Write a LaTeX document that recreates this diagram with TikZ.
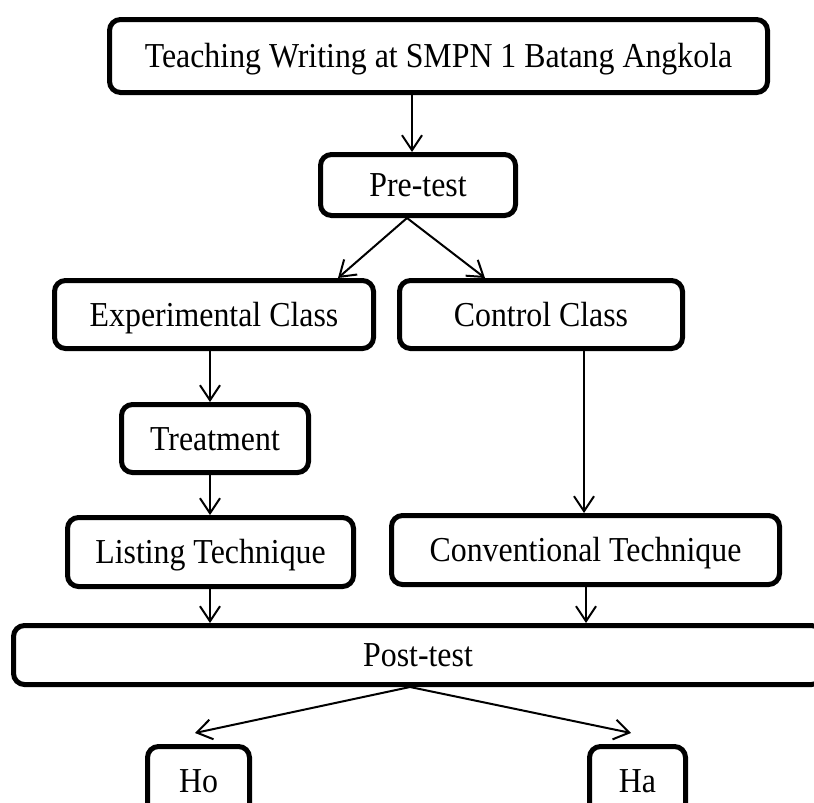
\documentclass[tikz,border=0pt]{standalone}
\usepackage{fontspec}
\setmainfont[FakeStretch=0.91]{Liberation Serif}
\usetikzlibrary{arrows.meta}
\begin{document}
\begin{tikzpicture}[x=1pt,y=-1pt,
  box/.style={draw, line width=5pt, rounded corners=11pt, inner sep=0pt,
    text height=23pt, text depth=0pt, font=\fontsize{35}{40}\selectfont},
  arr/.style={line width=2pt, -{Straight Barb[length=15pt,width=20pt,line width=2pt]}}]
\useasboundingbox (0,0) rectangle (814,803);
\clip (0,0) rectangle (814,803);
\node[box, minimum width=658pt, minimum height=73pt] (top) at (438.5,56) {Teaching Writing at SMPN 1 Batang Angkola};
\node[box, minimum width=195pt, minimum height=61pt] (pre) at (418,185) {Pre-test};
\node[box, minimum width=319pt, minimum height=68pt] (exp) at (214,314.5) {Experimental Class};
\node[box, minimum width=283pt, minimum height=68pt] (ctrl) at (541,314.5) {Control Class};
\node[box, minimum width=187pt, minimum height=68pt] (treat) at (215,438.5) {Treatment};
\node[box, minimum width=286pt, minimum height=69pt] (list) at (210.5,552) {Listing Technique};
\node[box, minimum width=388pt, minimum height=69pt] (conv) at (585.5,550) {Conventional Technique};
\node[box, minimum width=809pt, minimum height=59pt] (post) at (418,655) {Post-test};
\node[box, minimum width=102pt, minimum height=69pt] (ho) at (198.5,781) {Ho};
\node[box, minimum width=96pt, minimum height=69pt] (ha) at (637.5,781) {Ha};
\draw[arr] (top.south -| 412,0) -- (pre.north -| 412,0);
\draw[arr] (pre.south -| 407,0) -- (exp.north -| 338,0);
\draw[arr] (pre.south -| 407,0) -- (ctrl.north -| 485,0);
\draw[arr] (exp.south -| 210,0) -- (treat.north -| 210,0);
\draw[arr] (treat.south -| 210,0) -- (list.north -| 210,0);
\draw[arr] (ctrl.south -| 584,0) -- (conv.north -| 584,0);
\draw[arr] (list.south -| 210,0) -- (post.north -| 210,0);
\draw[arr] (conv.south -| 586,0) -- (post.north -| 586,0);
\coordinate (hotip) at (195,733);
\coordinate (hatip) at (631,733);
\draw[arr] (post.south -| 410,0) -- (hotip);
\draw[arr] (post.south -| 410,0) -- (hatip);
\end{tikzpicture}
\end{document}
